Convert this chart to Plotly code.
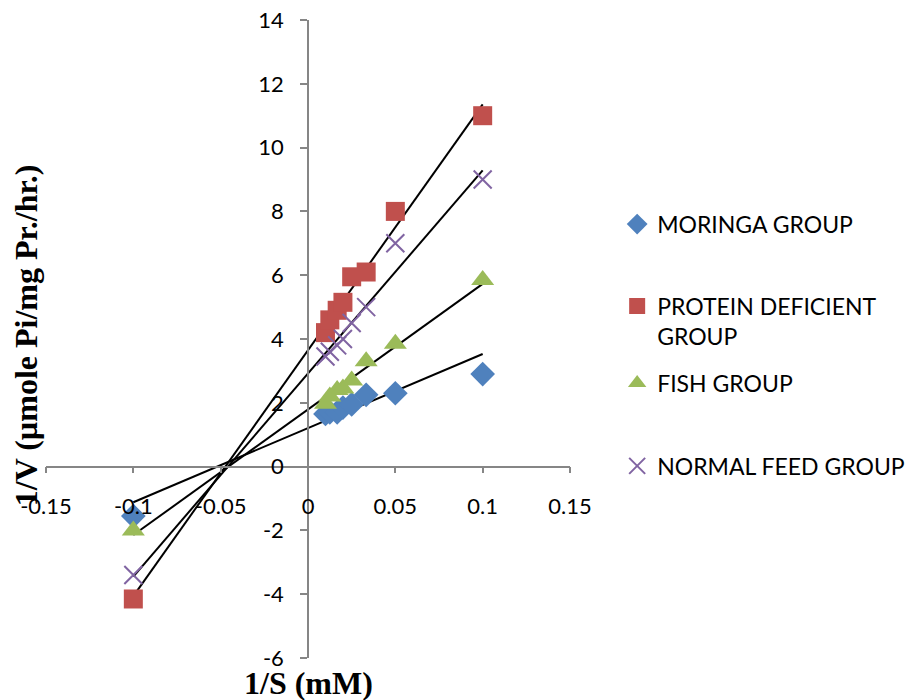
import numpy as np
import plotly.graph_objects as go

# Data (1/S in mM^-1, 1/V)
x_vals = [-0.1, 0.01, 0.0125, 0.0167, 0.02, 0.025, 0.0333, 0.05, 0.1]
moringa = [-1.55, 1.65, 1.7, 1.7, 1.85, 1.95, 2.25, 2.3, 2.9]
protein_def = [-4.15, 4.2, 4.6, 4.9, 5.15, 5.95, 6.1, 8.0, 11.0]
fish = [-2.0, 1.97, 2.2, 2.4, 2.45, 2.7, 3.3, 3.85, 5.85]
normal = [-3.4, 3.45, 3.6, 3.8, 4.0, 4.5, 5.0, 7.0, 9.0]

x_ticks = [-0.15, -0.1, -0.05, 0, 0.05, 0.1, 0.15]
x_ticktext = ["-0.15", "-0.1", "-0.05", "0", "0.05", "0.1", "0.15"]
y_ticks = [-6, -4, -2, 0, 2, 4, 6, 8, 10, 12, 14]
y_ticktext = ["-6", "-4", "-2", "0", "2", "4", "6", "8", "10", "12", "14"]

names = ["MORINGA GROUP", "PROTEIN DEFICIENT<br>GROUP", "FISH GROUP", "NORMAL FEED GROUP"]
colors = ["#4F81BD", "#C0504D", "#9BBB59", "#8064A2"]
symbols = ["diamond", "square", "triangle-up", "x-thin"]
sizes = [19, 19, 20, 18]
series = [moringa, protein_def, fish, normal]
legend_ids = ["legend", "legend2", "legend3", "legend4"]
legend_y = [0.680, 0.528, 0.431, 0.301]

fig = go.Figure()

# Trendlines (linear fit) drawn under markers
for ys in series:
    k, b = np.polyfit(x_vals, ys, 1)
    xs = np.array([min(x_vals), max(x_vals)])
    fig.add_trace(go.Scatter(x=xs, y=k * xs + b, mode="lines",
                             line=dict(color="black", width=2),
                             showlegend=False, hoverinfo="skip"))

for name, ys, c, s, sz, lid in zip(names, series, colors, symbols, sizes, legend_ids):
    marker = dict(color=c, symbol=s, size=sz)
    if s == "x-thin":
        marker["line"] = dict(color=c, width=2)
    fig.add_trace(go.Scatter(x=x_vals, y=ys, mode="markers", name=name,
                             marker=marker, legend=lid))

font_tick = dict(family="Lato, Carlito, sans-serif", size=22, color="black")
font_leg = dict(family="Lato, Carlito, sans-serif", size=23, color="black")
font_title = dict(family="Liberation Serif, Times New Roman, serif", size=32, color="black")

legend_common = dict(font=font_leg, bgcolor="rgba(0,0,0,0)", x=1.090,
                     xanchor="left", valign="top", itemwidth=30)
layout_legends = {}
for lid, ly in zip(legend_ids, legend_y):
    layout_legends[lid] = dict(legend_common, y=ly, yanchor="middle")

fig.update_layout(
    width=906, height=700,
    margin=dict(l=46, r=336, t=20, b=42, autoexpand=False),
    plot_bgcolor="white", paper_bgcolor="white",
    xaxis=dict(range=[-0.15, 0.15], tickvals=x_ticks, ticktext=x_ticktext,
               showgrid=False, zeroline=False, showline=True, linecolor="#868686", linewidth=1.5,
               ticks="outside", ticklen=6, tickcolor="#868686", tickwidth=1.5,
               anchor="free", position=0.3, tickfont=font_tick, ticklabelstandoff=14),
    yaxis=dict(range=[-6, 14], tickvals=y_ticks, ticktext=y_ticktext,
               showgrid=False, zeroline=False, showline=True,
               linecolor="#868686", linewidth=1.5, ticks="outside", ticklen=7,
               tickcolor="#868686", tickwidth=1.5, anchor="free", position=0.5,
               tickfont=font_tick, ticklabelstandoff=12),
    annotations=[
        dict(text="<b>1/S (mM)</b>", xref="paper", yref="paper", x=0.5, y=-0.039,
             xanchor="center", yanchor="middle", showarrow=False, font=font_title),
        dict(text="<b>1/V (µmole Pi/mg Pr./hr.)</b>", xref="paper", yref="paper",
             x=-0.038, y=0.506, xanchor="center", yanchor="middle", textangle=-90,
             showarrow=False, font=font_title),
    ],
    **layout_legends,
)

fig.write_html("out.html")
